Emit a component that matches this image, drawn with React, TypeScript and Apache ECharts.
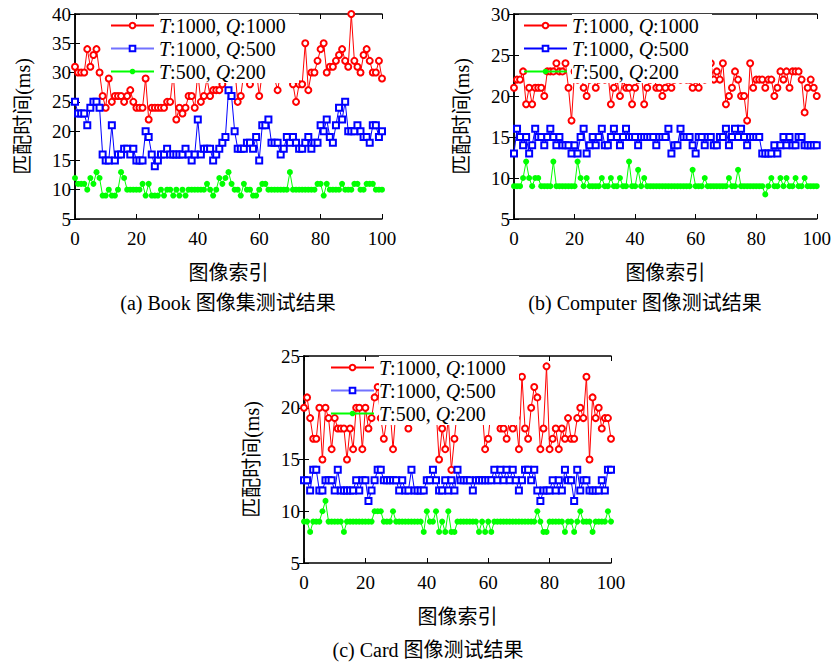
import React, { useEffect, useRef } from 'react';
import * as echarts from 'echarts';

// image index 0..100
const imageIndex: number[] = Array.from({ length: 101 }, (_, i) => i);

const seriesNames = ['T:1000, Q:1000', 'T:1000, Q:500', 'T:500, Q:200'];
const panelCaptions = ['(a) Book 图像集测试结果', '(b) Computer 图像测试结果', '(c) Card 图像测试结果'];
const yAxisName = '匹配时间(ms)';
const xAxisName = '图像索引';
const yMaxes = [40, 30, 25];
const yMin = 5;
const yStep = 5;
const xMin = 0;
const xMax = 100;
const xStep = 20;

const bookRed = [
  31, 30, 30, 30, 34, 31, 33, 34, 30, 26,
  24, 29, 25, 26, 26, 26, 25, 26, 27, 25,
  24, 24, 24, 29, 22, 24, 24, 24, 24, 24,
  25, 25, 30, 22, 24, 23, 24, 26, 26, 24,
  30, 25, 26, 29, 26, 27, 27, 27, 28, 29,
  30, 30, 31, 25, 26, 30, 31, 28, 30, 31,
  26, 30, 31, 32, 30, 29, 27, 30, 31, 30,
  29, 28, 25, 28, 28, 35, 27, 30, 30, 32,
  34, 35, 30, 31, 31, 32, 33, 34, 32, 31,
  40, 32, 31, 30, 33, 34, 32, 30, 30, 32,
  29,
];
const bookBlue = [
  25, 23, 23, 23, 21, 24, 25, 25, 24, 16,
  15, 15, 21, 15, 16, 16, 17, 17, 16, 17,
  15, 15, 15, 20, 19, 16, 14, 15, 16, 16,
  17, 16, 16, 16, 16, 16, 17, 16, 15, 16,
  22, 16, 17, 17, 17, 15, 16, 17, 18, 19,
  27, 26, 20, 17, 17, 17, 18, 18, 17, 19,
  15, 21, 21, 22, 18, 18, 18, 16, 17, 19,
  18, 19, 18, 17, 17, 18, 19, 17, 18, 18,
  21, 20, 22, 19, 18, 21, 24, 22, 25, 20,
  20, 20, 21, 20, 19, 19, 18, 21, 21, 19,
  20,
];
const bookGreen = [
  12, 11, 11, 11, 10, 12, 11, 13, 12, 9,
  9, 10, 9, 9, 10, 13, 12, 10, 10, 10,
  10, 10, 11, 9, 11, 9, 9, 9, 10, 9,
  10, 10, 9, 10, 9, 10, 9, 10, 10, 10,
  10, 10, 10, 11, 10, 9, 10, 12, 11, 12,
  13, 11, 10, 10, 9, 11, 10, 10, 9, 9,
  10, 11, 11, 10, 10, 10, 10, 10, 10, 10,
  13, 10, 10, 10, 10, 10, 10, 10, 10, 11,
  11, 9, 11, 10, 10, 10, 10, 11, 10, 10,
  10, 11, 11, 10, 10, 11, 11, 11, 10, 10,
  10,
];

const computerRed = [
  21, 22, 22, 23, 19, 21, 19, 21, 21, 21,
  20, 23, 23, 23, 24, 23, 23, 24, 21, 17,
  23, 22, 23, 21, 20, 22, 23, 21, 22, 23,
  22, 23, 19, 21, 22, 20, 22, 21, 21, 19,
  21, 22, 23, 19, 21, 22, 23, 21, 21, 20,
  21, 22, 21, 22, 23, 22, 23, 22, 22, 21,
  22, 21, 23, 22, 23, 24, 22, 23, 22, 24,
  19, 20, 21, 23, 22, 20, 20, 17, 24, 21,
  22, 22, 22, 21, 22, 22, 20, 21, 23, 22,
  23, 21, 23, 23, 23, 22, 18, 21, 22, 21,
  20,
];
const computerBlue = [
  13, 16, 15, 14, 15, 13, 14, 16, 15, 15,
  14, 15, 16, 15, 14, 15, 14, 14, 14, 13,
  14, 13, 15, 16, 13, 14, 15, 14, 15, 16,
  14, 14, 15, 16, 15, 14, 15, 16, 15, 15,
  15, 14, 15, 15, 15, 15, 15, 14, 15, 15,
  15, 16, 13, 14, 14, 16, 15, 15, 15, 14,
  13, 15, 15, 14, 15, 15, 14, 14, 15, 15,
  16, 14, 15, 16, 15, 16, 15, 14, 15, 15,
  15, 15, 13, 13, 13, 13, 14, 13, 14, 15,
  14, 15, 14, 14, 15, 15, 14, 14, 14, 14,
  14,
];
const computerGreen = [
  9, 9, 9, 10, 12, 10, 9, 10, 10, 9,
  9, 9, 9, 12, 9, 9, 9, 9, 9, 9,
  9, 12, 10, 9, 10, 9, 9, 9, 9, 10,
  9, 9, 10, 9, 9, 10, 9, 9, 12, 9,
  9, 11, 9, 10, 9, 9, 9, 9, 9, 9,
  9, 9, 9, 9, 9, 9, 9, 9, 9, 11,
  9, 9, 9, 10, 9, 9, 9, 9, 9, 9,
  9, 10, 9, 9, 11, 9, 9, 9, 9, 9,
  9, 9, 9, 8, 9, 10, 9, 9, 10, 9,
  10, 9, 9, 10, 9, 9, 10, 9, 9, 9,
  9,
];

const cardRed = [
  20, 21, 19, 17, 17, 20, 15, 20, 19, 16,
  19, 18, 18, 18, 15, 18, 16, 20, 20, 16,
  20, 18, 19, 21, 22, 19, 17, 19, 20, 16,
  20, 21, 20, 19, 18, 20, 21, 19, 20, 22,
  20, 19, 21, 20, 15, 18, 16, 19, 14, 17,
  20, 19, 21, 20, 19, 21, 20, 19, 20, 16,
  17, 20, 19, 21, 18, 18, 17, 19, 18, 19,
  16, 23, 18, 17, 20, 22, 21, 16, 18, 24,
  16, 17, 18, 16, 18, 17, 19, 17, 17, 19,
  20, 19, 23, 15, 21, 19, 20, 18, 19, 19,
  17,
];
const cardBlue = [
  13, 13, 12, 14, 14, 12, 12, 13, 13, 13,
  12, 14, 12, 12, 12, 12, 12, 13, 12, 13,
  13, 11, 12, 13, 14, 14, 13, 13, 13, 13,
  13, 12, 13, 12, 12, 14, 12, 12, 12, 12,
  13, 13, 14, 13, 12, 12, 13, 12, 13, 12,
  14, 13, 13, 13, 13, 12, 13, 13, 13, 13,
  13, 13, 14, 13, 14, 13, 14, 13, 14, 13,
  12, 13, 14, 14, 13, 14, 12, 11, 12, 12,
  12, 13, 12, 13, 12, 14, 13, 13, 11, 14,
  12, 13, 13, 12, 12, 12, 12, 13, 12, 14,
  14,
];
const cardGreen = [
  9, 9, 8, 9, 9, 9, 10, 11, 9, 9,
  9, 9, 9, 8, 9, 9, 9, 9, 9, 9,
  9, 9, 9, 10, 10, 10, 9, 9, 9, 10,
  9, 9, 9, 9, 9, 9, 9, 9, 9, 8,
  10, 9, 9, 10, 8, 9, 8, 10, 8, 8,
  9, 9, 9, 9, 9, 9, 9, 8, 9, 8,
  9, 8, 9, 9, 9, 9, 9, 9, 9, 9,
  9, 9, 9, 9, 9, 9, 10, 9, 8, 8,
  9, 9, 9, 9, 9, 8, 9, 9, 8, 9,
  10, 9, 9, 9, 8, 9, 9, 9, 9, 10,
  9,
];

const panelData = [
  [bookRed, bookBlue, bookGreen],
  [computerRed, computerBlue, computerGreen],
  [cardRed, cardBlue, cardGreen],
];

const FONT = '"Liberation Serif", "Times New Roman", "Noto Sans CJK SC", serif';
const COLORS = ['#ff0000', '#0000ff', '#00ff00'];
const SYMBOLS = ['emptyCircle', 'emptyRect', 'circle'];
const SYMBOL_SIZES = [6, 6, 6];

const panels = [
  { left: 75, top: 14, width: 307, height: 205, legendLeft: 110, capX: 228, capY: 303, lightBlue: true },
  { left: 514, top: 14, width: 307, height: 205, legendLeft: 523, capX: 645, capY: 303, lightBlue: false },
  { left: 304, top: 356, width: 307, height: 207, legendLeft: 330, capX: 428, capY: 650, lightBlue: true },
];

function buildOption() {
  const grid: any[] = [];
  const xAxis: any[] = [];
  const yAxis: any[] = [];
  const series: any[] = [];
  const legend: any[] = [];
  const graphic: any[] = [];

  const axisLine = { show: true, lineStyle: { color: '#000', width: 1.5 } };
  const axisTick = { show: true, inside: true, length: 5, lineStyle: { color: '#000', width: 1 } };

  panels.forEach((p, g) => {
    grid.push({ left: p.left, top: p.top, width: p.width, height: p.height, containLabel: false });
    xAxis.push({
      gridIndex: g, type: 'value', position: 'bottom', min: xMin, max: xMax, interval: xStep,
      axisLine, axisTick, splitLine: { show: false },
      axisLabel: { margin: 10, fontSize: 19, color: '#000', fontFamily: FONT },
      name: xAxisName, nameLocation: 'middle', nameGap: 44,
      nameTextStyle: { fontSize: 20, color: '#000', fontFamily: FONT },
    });
    xAxis.push({
      gridIndex: g, type: 'value', position: 'top', min: xMin, max: xMax, interval: xStep,
      axisLine, axisTick, splitLine: { show: false }, axisLabel: { show: false },
    });
    yAxis.push({
      gridIndex: g, type: 'value', position: 'left', min: yMin, max: yMaxes[g], interval: yStep,
      axisLine, axisTick, splitLine: { show: false },
      axisLabel: { margin: 4, fontSize: 19, color: '#000', fontFamily: FONT },
      name: yAxisName, nameLocation: 'middle', nameGap: 42, nameRotate: 90,
      nameTextStyle: { fontSize: 20, color: '#000', fontFamily: FONT },
    });
    yAxis.push({
      gridIndex: g, type: 'value', position: 'right', min: yMin, max: yMaxes[g], interval: yStep,
      axisLine, axisTick, splitLine: { show: false }, axisLabel: { show: false },
    });

    panelData[g].forEach((values, s) => {
      series.push({
        type: 'line',
        name: seriesNames[s],
        xAxisIndex: 2 * g,
        yAxisIndex: 2 * g,
        data: values.map((v, i) => [imageIndex[i], v]),
        symbol: SYMBOLS[s],
        symbolSize: SYMBOL_SIZES[s],
        showSymbol: true,
        showAllSymbol: true,
        lineStyle: { color: COLORS[s], width: 1 },
        itemStyle: { color: COLORS[s], borderWidth: 1 },
        emphasis: { disabled: true },
        z: 2,
      });
    });

    legend.push({
      orient: 'vertical',
      left: p.legendLeft,
      top: p.top,
      padding: 0,
      itemGap: 0,
      itemWidth: 43,
      itemHeight: 7,
      selectedMode: false,
      data: seriesNames.map((n, s) =>
        s === 1 && p.lightBlue ? { name: n, lineStyle: { color: '#7272ff' } } : { name: n }
      ),
      formatter: (name: string) => name.replace(/([TQ])/g, '{i|$1}'),
      textStyle: {
        fontSize: 20,
        fontFamily: FONT,
        color: '#000',
        backgroundColor: '#fff',
        width: 140,
        lineHeight: 23,
        padding: 0,
        rich: {
          i: { fontStyle: 'italic', fontSize: 20, fontFamily: FONT, color: '#000', lineHeight: 23 },
        },
      },
      z: 4,
    });

    graphic.push({
      type: 'text',
      x: p.capX,
      y: p.capY,
      style: {
        text: panelCaptions[g],
        fill: '#000',
        font: `20px ${FONT}`,
        fontSize: 20,
        fontFamily: FONT,
        align: 'center',
        verticalAlign: 'middle',
        textAlign: 'center',
        textVerticalAlign: 'middle',
      },
    });
  });

  return {
    animation: false,
    backgroundColor: '#fff',
    grid,
    xAxis,
    yAxis,
    series,
    legend,
    graphic,
  };
}

export default function App() {
  const ref = useRef<HTMLDivElement>(null);
  useEffect(() => {
    if (!ref.current) return;
    const chart = echarts.init(ref.current, undefined, { renderer: 'svg' });
    chart.setOption(buildOption() as any);
    return () => chart.dispose();
  }, []);
  return (
    <div
      ref={ref}
      style={{ position: 'fixed', left: 0, top: 0, width: 834, height: 662, background: '#fff' }}
    />
  );
}
